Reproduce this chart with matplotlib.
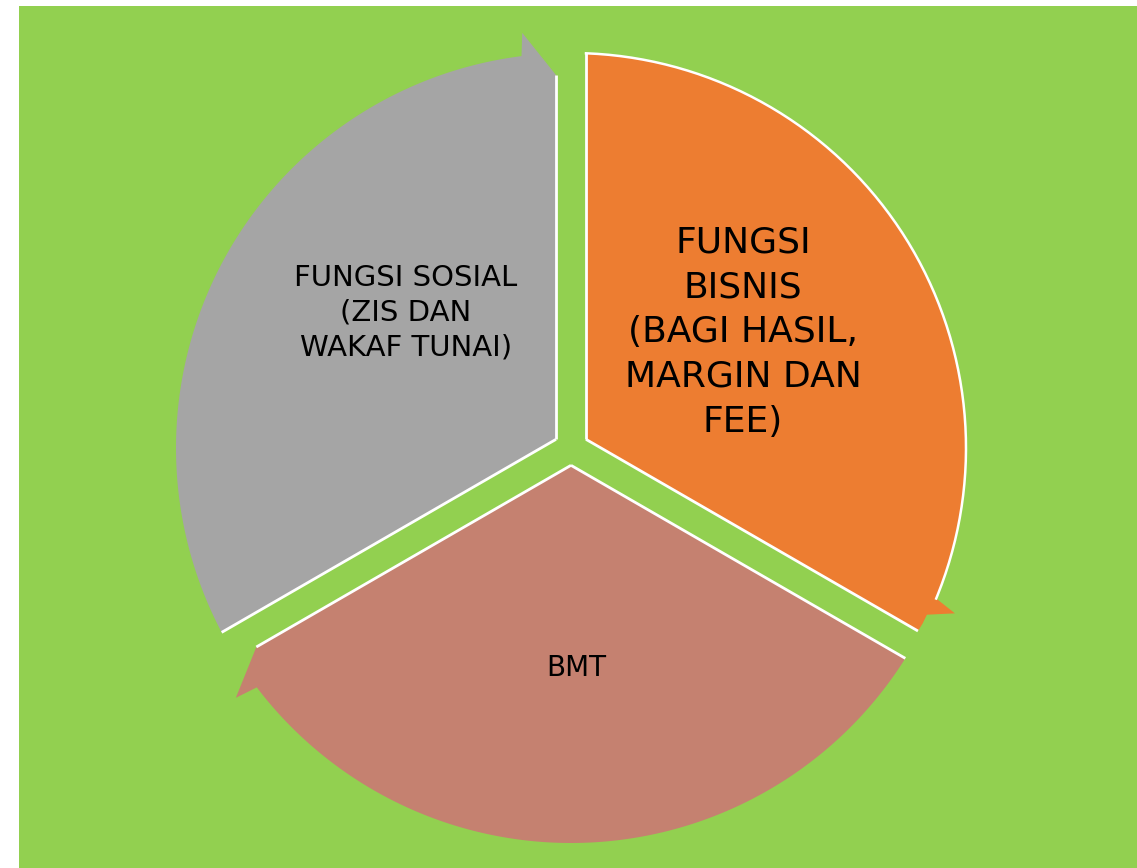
import numpy as np
import matplotlib
matplotlib.use("Agg")
import matplotlib.pyplot as plt

# ---- data ----
labels = ["FUNGSI\nBISNIS\n(BAGI HASIL,\nMARGIN DAN\nFEE)", "BMT", "FUNGSI SOSIAL\n(ZIS DAN\nWAKAF TUNAI)"]
values = [1, 1, 1]
colors = ["#ED7D31", "#C58170", "#A5A5A5"]

# ---- style / geometry ----
W, H = 1137, 868
CX, CY = 571, 448
R = 395
G = 15
heads = [
    dict(arc_end=7.6, pts=[(418, 6.7), (393, 4.9), (393, 3.5)], edge_t=392),
    dict(arc_end=7.3, pts=[(418, 6.7)], edge_t=372),
    dict(arc_end=7.2, pts=[(418, 6.7)], edge_t=373),
]
text_pos = [(743, 332), (576, 668), (406, 313)]
text_size = [26, 20, 21]
text_ls = [1.40, 1.3, 1.30]
outline_arc = [True, False, False]

fig = plt.figure(figsize=(W / 100, H / 100), dpi=100)
fig.patch.set_facecolor("white")
ax = fig.add_axes([0, 0, 1, 1])
ax.set_xlim(0, W)
ax.set_ylim(H, 0)
ax.axis("off")

ax.add_patch(plt.Rectangle((19, 6), W - 19, H - 6, facecolor="#92D050", edgecolor="none"))


def pt(r, deg):
    a = np.radians(deg)
    return (CX + r * np.cos(a), CY - r * np.sin(a))


def vec(x, y):
    return (CX + x, CY - y)


total = sum(values)
start = 90.0
for i, v in enumerate(values):
    span = 360.0 * v / total
    th_s, th_e = start, start - span
    start = th_e
    hd = heads[i]
    a_s, a_e = np.radians(th_s), np.radians(th_e)
    bis = np.radians((th_s + th_e) / 2)
    cd = G / np.sin(np.radians(span / 2))
    corner = vec(cd * np.cos(bis), cd * np.sin(bis))
    t0 = np.sqrt(R ** 2 - G ** 2)
    ns = (np.sin(a_s), -np.cos(a_s))
    p_start = vec(G * ns[0] + t0 * np.cos(a_s), G * ns[1] + t0 * np.sin(a_s))
    arc_a = np.linspace(th_s - np.degrees(np.arcsin(G / R)), th_e + hd["arc_end"], 200)
    arc = [pt(R, a) for a in arc_a]
    hp = [pt(r, th_e + o) for r, o in hd["pts"]]
    ne = (-np.sin(a_e), np.cos(a_e))
    t = hd["edge_t"]
    p_end = vec(G * ne[0] + t * np.cos(a_e), G * ne[1] + t * np.sin(a_e))
    poly = [corner, p_start] + arc + hp + [p_end]
    ax.add_patch(plt.Polygon(poly, closed=True, facecolor=colors[i], edgecolor="none", zorder=2))
    # white outlines on gap edges
    ax.plot([corner[0], p_start[0]], [corner[1], p_start[1]], color="white", lw=2, zorder=3,
            solid_capstyle="butt")
    ax.plot([corner[0], p_end[0]], [corner[1], p_end[1]], color="white", lw=2, zorder=3,
            solid_capstyle="butt")
    if outline_arc[i]:
        xs, ys = zip(*arc)
        ax.plot(xs, ys, color="white", lw=1.8, zorder=3)
    ax.text(text_pos[i][0], text_pos[i][1], labels[i], ha="center", va="center",
            fontsize=text_size[i], linespacing=text_ls[i], color="black",
            family="DejaVu Sans", zorder=4)

fig.savefig("out.png", dpi=100, facecolor="white")
